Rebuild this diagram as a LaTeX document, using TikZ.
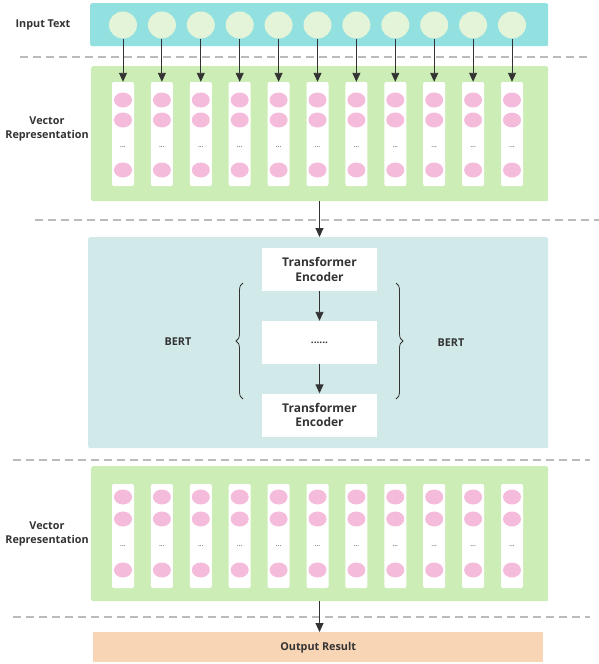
\documentclass[tikz,border=0pt]{standalone}
\usepackage{fontspec}
\setmainfont{Open Sans}
\usetikzlibrary{arrows.meta,decorations.pathreplacing,shapes.geometric}
\definecolor{inputc}{HTML}{93E0E0}
\definecolor{circc}{HTML}{E3F4D9}
\definecolor{greenc}{HTML}{CDEDB6}
\definecolor{pinkc}{HTML}{F4BBDA}
\definecolor{bertc}{HTML}{D1E9E9}
\definecolor{peachc}{HTML}{F8D5B4}
\definecolor{dashc}{HTML}{BBBBBB}
\definecolor{txtc}{HTML}{333333}
\tikzset{
  panel/.style={draw=none, rounded corners=2pt, anchor=north west, inner sep=0pt},
  lab/.style={font=\bfseries\fontsize{10.8}{13.5}\selectfont, text=txtc, align=center},
  tok/.style={ellipse, fill=circc, minimum width=28pt, minimum height=27pt, inner sep=0pt},
  colbox/.style={fill=white, rounded corners=2pt, minimum width=22pt, minimum height=104pt, inner sep=0pt},
  pink/.style={ellipse, fill=pinkc, minimum width=18pt, minimum height=15pt, inner sep=0pt},
  dots/.style={font=\fontsize{7}{7}\selectfont, text=txtc, inner sep=0pt},
  sep/.style={draw=dashc, line width=1.4pt, dash pattern=on 8pt off 5pt},
  arr/.style={draw=txtc, line width=0.9pt, -{Triangle[length=9pt,width=8pt]}},
  encbox/.style={fill=white, minimum width=115pt, minimum height=43pt, inner sep=0pt, align=center, font=\bfseries\fontsize{12}{14.5}\selectfont, text=txtc},
  brc/.style={draw=txtc, line width=0.8pt, decorate, decoration={brace, amplitude=7pt}}
}
\begin{document}
\begin{tikzpicture}[x=1pt,y=-1pt]
\useasboundingbox (0,0) rectangle (599,664);
% input row
\node[panel, fill=inputc, minimum width=458pt, minimum height=43pt] (inbox) at (90,3) {};
\node[lab] (inlab) at (43,25) {Input Text};
% separators
\coordinate (s1a) at (20,57); \coordinate (s1b) at (590,57);
\draw[sep] (s1a) -- (s1b);
\coordinate (s2a) at (35,220); \coordinate (s2b) at (599,220);
\draw[sep] (s2a) -- (s2b);
\coordinate (s3a) at (13,460); \coordinate (s3b) at (590,460);
\draw[sep] (s3a) -- (s3b);
\coordinate (s4a) at (13,617); \coordinate (s4b) at (590,617);
\draw[sep] (s4a) -- (s4b);
% vector block 1
\node[panel, fill=greenc, minimum width=457pt, minimum height=135pt] (vec1) at (91,66) {};
\node[lab] (vlab1) at (47,129) {Vector\\Representation};
% vector block 2
\node[panel, fill=greenc, minimum width=457pt, minimum height=135pt] (vec2) at (91,466) {};
\node[lab] (vlab2) at (47,534) {Vector\\Representation};
\foreach \i in {0,...,10}{
  \pgfmathsetmacro{\xx}{123+38.9*\i}
  \node[tok] (c\i) at (\xx,25) {};
  \node[colbox] (col\i) at (\xx,134) {};
  \node[pink] (pa\i) at (\xx,100) {};
  \node[pink] (pb\i) at (\xx,120) {};
  \node[dots] (pd\i) at (\xx,147) {...};
  \node[pink] (pc\i) at (\xx,170) {};
  \draw[arr] (c\i.south) -- (col\i.north);
  \node[colbox] (colb\i) at (\xx,536) {};
  \node[pink] (qa\i) at (\xx,497) {};
  \node[pink] (qb\i) at (\xx,519) {};
  \node[dots] (qd\i) at (\xx,546) {...};
  \node[pink] (qc\i) at (\xx,570) {};
}
% BERT block
\node[panel, fill=bertc, minimum width=460pt, minimum height=211pt] (bert) at (88,237) {};
\node[encbox] (te1) at (319.5,269.5) {Transformer\\Encoder};
\node[encbox, font=\bfseries\fontsize{10}{12}\selectfont] (mid) at (319.5,342.5) {......};
\node[encbox] (te2) at (319.5,415) {Transformer\\Encoder};
\draw[arr] (vec1.south -| te1) -- (bert.north -| te1);
\draw[arr] (te1) -- (mid);
\draw[arr] (mid) -- (te2);
\coordinate (bl1) at (243,399); \coordinate (bl2) at (243,283);
\draw[brc] (bl1) -- (bl2);
\coordinate (br1) at (396,283); \coordinate (br2) at (396,399);
\draw[brc] (br1) -- (br2);
\node[lab] (bertl) at (178,342) {BERT};
\node[lab] (bertr) at (451,343) {BERT};
% output
\node[panel, fill=peachc, rounded corners=0pt, minimum width=450pt, minimum height=30pt] (out) at (93,632) {};
\node[lab] (outlab) at (out.center) {Output Result};
\draw[arr] (vec2.south -| te1) -- (out.north -| te1);
\end{tikzpicture}
\end{document}
